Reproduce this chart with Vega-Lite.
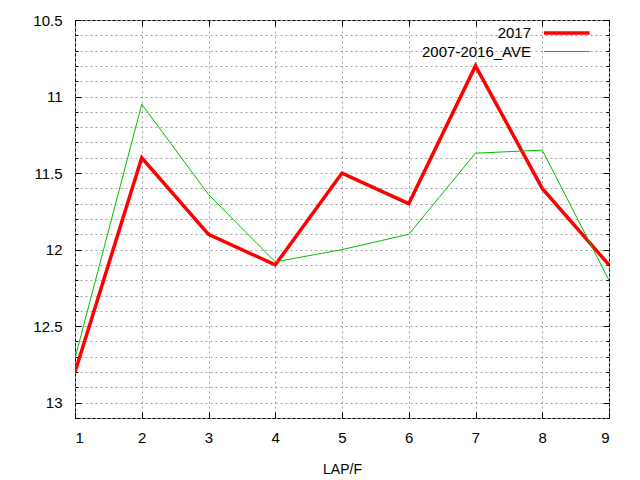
{
  "$schema": "https://vega.github.io/schema/vega-lite/v6.json",
  "width": 534,
  "height": 398,
  "autosize": "none",
  "padding": {"left": 75, "top": 20, "right": 31, "bottom": 62},
  "config": {
    "font": "Liberation Sans",
    "view": {"stroke": "#000000", "strokeWidth": 1},
    "axis": {"labelFont": "Liberation Sans", "labelFontSize": 15, "labelColor": "#000000", "titleFont": "Liberation Sans", "titleFontSize": 14, "titleFontWeight": "normal", "titleColor": "#000000"},
    "legend": {"labelFont": "Liberation Sans", "labelFontSize": 15, "labelColor": "#000000"}
  },
  "data": {
    "values": [
      {"lap": 1, "series": "2017", "time": 12.8},
      {"lap": 2, "series": "2017", "time": 11.4},
      {"lap": 3, "series": "2017", "time": 11.9},
      {"lap": 4, "series": "2017", "time": 12.1},
      {"lap": 5, "series": "2017", "time": 11.5},
      {"lap": 6, "series": "2017", "time": 11.7},
      {"lap": 7, "series": "2017", "time": 10.8},
      {"lap": 8, "series": "2017", "time": 11.6},
      {"lap": 9, "series": "2017", "time": 12.1},
      {"lap": 1, "series": "2007-2016_AVE", "time": 12.71},
      {"lap": 2, "series": "2007-2016_AVE", "time": 11.05},
      {"lap": 3, "series": "2007-2016_AVE", "time": 11.64},
      {"lap": 4, "series": "2007-2016_AVE", "time": 12.08},
      {"lap": 5, "series": "2007-2016_AVE", "time": 12.0},
      {"lap": 6, "series": "2007-2016_AVE", "time": 11.9},
      {"lap": 7, "series": "2007-2016_AVE", "time": 11.37},
      {"lap": 8, "series": "2007-2016_AVE", "time": 11.35},
      {"lap": 9, "series": "2007-2016_AVE", "time": 12.2}
    ]
  },
  "resolve": {"axis": {"x": "independent", "y": "independent"}},
  "layer": [
    {
      "mark": {"type": "line", "clip": true},
      "encoding": {
        "x": {
          "field": "lap", "type": "quantitative",
          "scale": {"domain": [1, 9], "nice": false},
          "axis": {"orient": "bottom", "values": [1, 2, 3, 4, 5, 6, 7, 8, 9], "grid": true, "gridDash": [2, 3], "gridColor": "#a0a0a0", "gridWidth": 1, "ticks": false, "domain": false, "labelPadding": 12, "title": "LAP/F", "titlePadding": 17}
        },
        "y": {
          "field": "time", "type": "quantitative",
          "scale": {"domain": [10.5, 13.1], "nice": false, "zero": false, "reverse": true},
          "axis": {"orient": "left", "values": [10.5, 10.6, 10.7, 10.8, 10.9, 11, 11.1, 11.2, 11.3, 11.4, 11.5, 11.6, 11.7, 11.8, 11.9, 12, 12.1, 12.2, 12.3, 12.4, 12.5, 12.6, 12.7, 12.8, 12.9, 13, 13.1], "labelExpr": "abs(datum.value * 2 - round(datum.value * 2)) < 0.01 ? format(datum.value, '~g') : ''", "grid": true, "gridDash": [2, 3], "gridColor": "#a0a0a0", "gridWidth": 1, "ticks": false, "domain": false, "labelPadding": 13, "title": null}
        },
        "color": {
          "field": "series", "type": "nominal",
          "scale": {"domain": ["2017", "2007-2016_AVE"], "range": ["#ff0000", "#00c000"]},
          "legend": {"title": null, "orient": "none", "legendX": 467, "legendY": 5, "padding": 0, "symbolType": "M-1,0L6.6,0", "symbolSize": 144, "labelAlign": "right", "labelOffset": -27, "rowPadding": 3}
        },
        "strokeWidth": {
          "field": "series", "type": "nominal",
          "scale": {"domain": ["2017", "2007-2016_AVE"], "range": [3.5, 1]},
          "legend": {"title": null, "orient": "none", "legendX": 467, "legendY": 5, "padding": 0, "symbolType": "M-1,0L6.6,0", "symbolSize": 144, "labelAlign": "right", "labelOffset": -27, "rowPadding": 3}
        },
        "order": {"field": "lap", "type": "quantitative"}
      }
    },
    {
      "mark": {"type": "point", "opacity": 0},
      "encoding": {
        "x": {"field": "lap", "type": "quantitative", "axis": {"orient": "bottom", "values": [1, 2, 3, 4, 5, 6, 7, 8, 9], "grid": false, "labels": false, "domain": false, "tickSize": -6, "tickColor": "#000000", "title": null}},
        "y": {"field": "time", "type": "quantitative", "axis": {"orient": "left", "values": [10.5, 10.6, 10.7, 10.8, 10.9, 11, 11.1, 11.2, 11.3, 11.4, 11.5, 11.6, 11.7, 11.8, 11.9, 12, 12.1, 12.2, 12.3, 12.4, 12.5, 12.6, 12.7, 12.8, 12.9, 13, 13.1], "grid": false, "labels": false, "domain": false, "tickColor": "#000000", "tickSize": {"condition": {"test": "abs(datum.value * 2 - round(datum.value * 2)) < 0.01", "value": -6}, "value": -3}, "title": null}}
      }
    },
    {
      "mark": {"type": "point", "opacity": 0},
      "encoding": {
        "x": {"field": "lap", "type": "quantitative", "axis": {"orient": "top", "values": [1, 2, 3, 4, 5, 6, 7, 8, 9], "grid": false, "labels": false, "domain": false, "tickSize": -6, "tickColor": "#000000", "title": null}},
        "y": {"field": "time", "type": "quantitative", "axis": {"orient": "right", "values": [10.5, 10.6, 10.7, 10.8, 10.9, 11, 11.1, 11.2, 11.3, 11.4, 11.5, 11.6, 11.7, 11.8, 11.9, 12, 12.1, 12.2, 12.3, 12.4, 12.5, 12.6, 12.7, 12.8, 12.9, 13, 13.1], "grid": false, "labels": false, "domain": false, "tickColor": "#000000", "tickSize": {"condition": {"test": "abs(datum.value * 2 - round(datum.value * 2)) < 0.01", "value": -6}, "value": -3}, "title": null}}
      }
    }
  ]
}
